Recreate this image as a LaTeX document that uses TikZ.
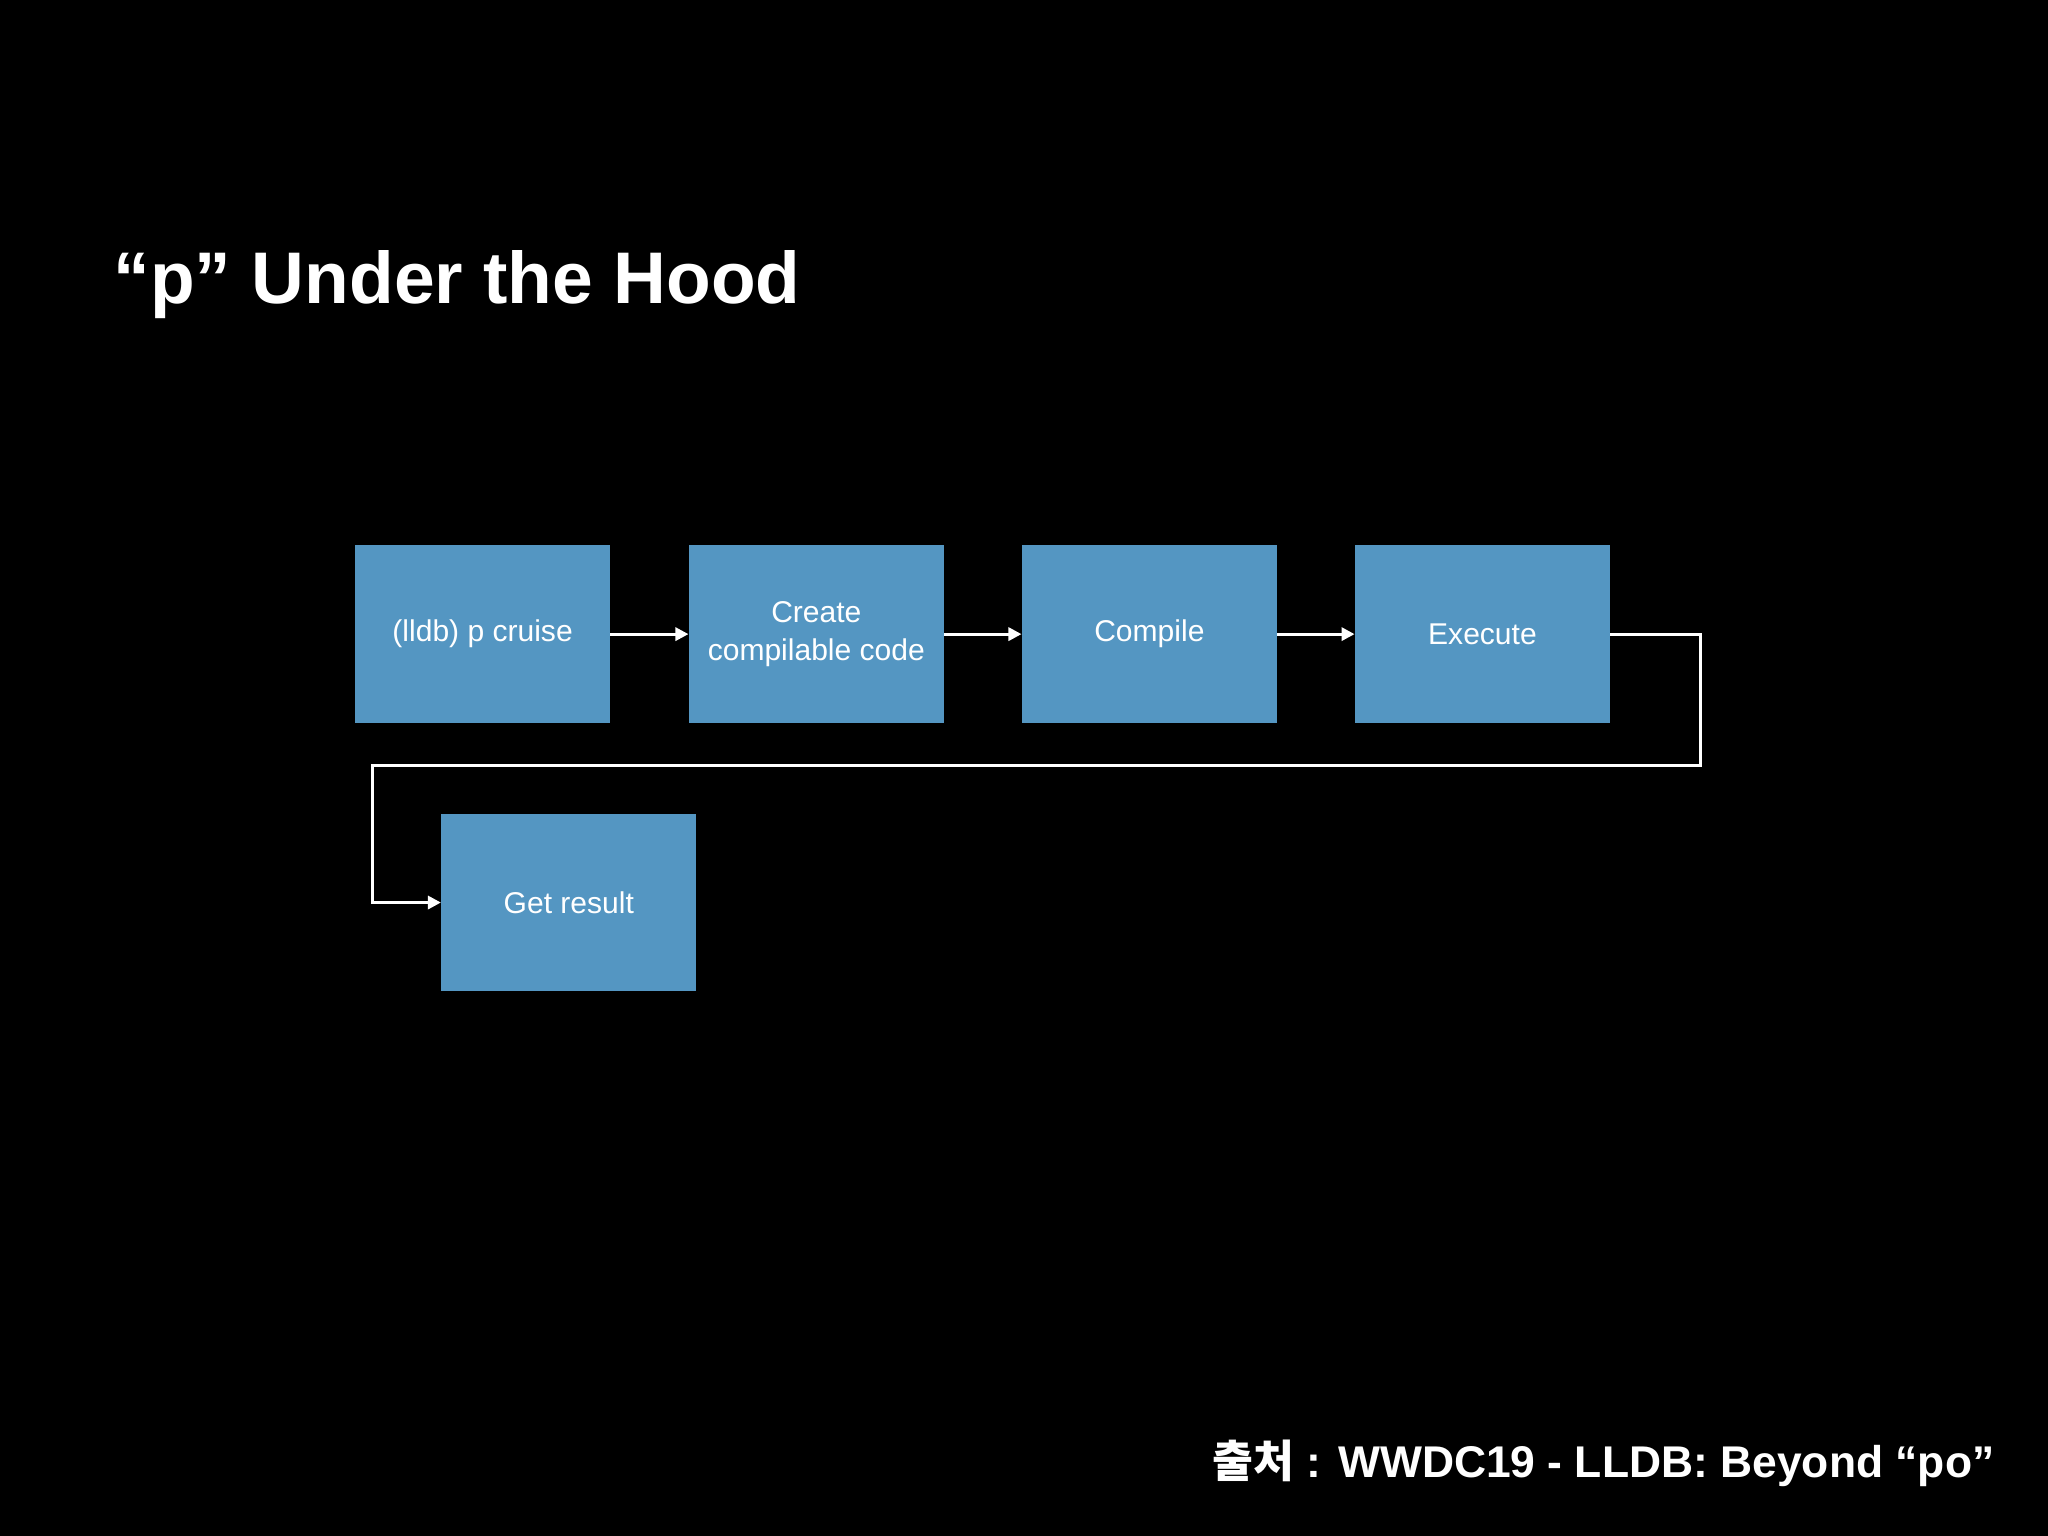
\documentclass[tikz,border=0pt]{standalone}
\usepackage{fontspec}
\setmainfont{Liberation Sans}
\newfontfamily\cjk{Noto Sans CJK KR}
\usetikzlibrary{arrows.meta}
\definecolor{boxblue}{RGB}{84,150,194}
\begin{document}
\begin{tikzpicture}[x=0.5pt,y=-0.5pt,
  stepbox/.style={fill=boxblue,draw=none,minimum width=97.5pt,minimum height=68pt,inner sep=0pt,text=white,align=center,font=\fontsize{11.5}{14.5}\selectfont},
  conn/.style={draw=white,line width=1.2pt,-{Triangle[length=5pt,width=5pt]}}]
\fill[black] (0,0) rectangle (1568,1176);
\useasboundingbox (0,0) rectangle (1568,1176);
\node[anchor=west,text=white,font=\fontsize{28}{32}\selectfont\bfseries] (title) at (80,218) {“p” Under the Hood};
\node[stepbox] (a) at (369.5,485.5) {(lldb) p cruise};
\node[stepbox] (b) at (625,485.5) {Create\\compilable code};
\node[stepbox] (c) at (880,485.5) {Compile};
\node[stepbox] (d) at (1135,485.5) {Execute};
\node[stepbox] (e) at (435.5,691) {Get result};
\draw[conn] (a) -- (b);
\draw[conn] (b) -- (c);
\draw[conn] (c) -- (d);
\coordinate (p1) at (1302,485.5);
\coordinate (p2) at (1302,586);
\coordinate (p3) at (285,586);
\coordinate (p4) at (285,691);
\draw[conn] (d.east) -- (p1) -- (p2) -- (p3) -- (p4) -- (e.west);
\node[anchor=east,text=white,font=\fontsize{17}{20}\selectfont\bfseries] (src) at (1534,1120) {{\cjk 출처} : WWDC19 - LLDB: Beyond “po"};
\end{tikzpicture}
\end{document}
